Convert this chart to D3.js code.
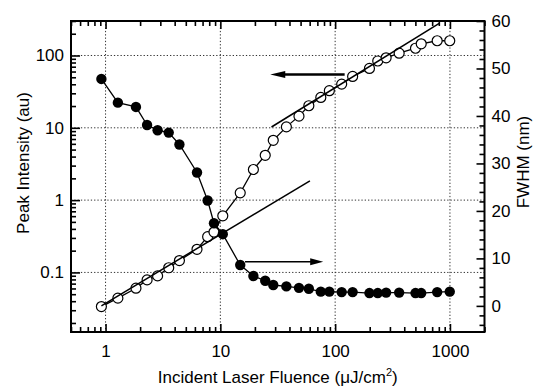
<!DOCTYPE html>
<html>
<head>
<meta charset="utf-8">
<script src="https://cdn.jsdelivr.net/npm/d3@7"></script>
<style>
    body { margin: 0; background: #fff; }
    svg text { font-family: 'Liberation Sans', Arial, sans-serif; fill: #000; }
</style>
</head>
<body>
<div class="chart"></div>
<script>

// fluence (uJ/cm2), shared by both series
var fluence = [0.92, 1.28, 1.84, 2.3, 2.84, 3.55, 4.4, 6.26, 7.75, 8.8, 10.5, 14.9, 19.4, 24.6, 28.9,
    37.6, 48.4, 59, 75, 89, 114, 142, 199, 235, 278, 361, 501, 562, 774, 996];

// open circles, left axis
var intensity = [0.0337, 0.0441, 0.0605, 0.0788, 0.0895, 0.116, 0.146, 0.209, 0.312, 0.362, 0.607, 1.26, 2.65, 4.17, 6.72,
    10.3, 14.5, 20.2, 26.3, 32.6, 40.2, 51.3, 66.2, 84, 92.9, 107.6, 126, 145, 160, 160];

// filled circles, right axis
var fwhm = [47.8, 42.8, 41.9, 38.1, 37.0, 36.5, 34.0, 28.1, 22.2, 17.4, 15.1, 8.6, 6.3, 5.3, 4.4,
    4.1, 3.8, 3.6, 3.0, 3.0, 2.9, 2.9, 2.7, 2.7, 2.8, 2.8, 2.7, 2.7, 2.9, 3.0];

// straight fit lines (fluence, intensity)
var fitLow = [[0.92, 0.0345], [60.3, 1.85]];
var fitHigh = [[27.9, 10.26], [813, 280]];

// arrows: left one points to the intensity axis, right one to FWHM
var arrowLeft = {from: [121, 54.7], to: [27.2, 54.7]};
var arrowRight = {from: [16.4, 9.3], to: [78.7, 9.3]};

var xMajor = [1, 10, 100, 1000];
var yMajor = [0.1, 1, 10, 100];
var rMajor = [0, 10, 20, 30, 40, 50, 60];

var W = 541, H = 387;
var pLeft = 71, pRight = 484.5, pTop = 21, pBottom = 332;

var svg = d3.select('.chart').append('svg')
    .attr('width', W)
    .attr('height', H);

var x = d3.scaleLog().domain([0.5, 2000]).range([pLeft, pRight]);
var yL = d3.scaleLog().domain([0.015, 300]).range([pBottom, pTop]);
var yR = d3.scaleLinear().domain([-5.5, 60]).range([pBottom, pTop]);

// dotted grid
svg.append('g').selectAll('line')
    .data(xMajor)
    .enter()
    .append('line')
    .attr('x1', function(d) {return x(d)})
    .attr('x2', function(d) {return x(d)})
    .attr('y1', pTop)
    .attr('y2', pBottom)
    .style('stroke', '#333')
    .style('stroke-width', '1')
    .style('stroke-dasharray', '1.3,2');

svg.append('g').selectAll('line')
    .data(yMajor)
    .enter()
    .append('line')
    .attr('y1', function(d) {return yL(d)})
    .attr('y2', function(d) {return yL(d)})
    .attr('x1', pLeft)
    .attr('x2', pRight)
    .style('stroke', '#333')
    .style('stroke-width', '1')
    .style('stroke-dasharray', '1.3,2');

// axes, ticks pointing inward
var xMinor = x.ticks().filter(function(d) {return xMajor.indexOf(d) < 0});
var yMinor = yL.ticks().filter(function(d) {return yMajor.indexOf(d) < 0});
var rMinor = d3.range(-4, 61, 2).filter(function(d) {return d % 10 != 0});

function addAxis(axis, tx, ty) {
    var g = svg.append('g')
        .attr('transform', 'translate(' + tx + ',' + ty + ')')
        .call(axis);
    g.select('.domain').remove();
    g.selectAll('line').style('stroke', '#000').style('stroke-width', '1.6');
    g.selectAll('text').style('font-size', '17px').style('font-family', null);
    return g;
}

addAxis(d3.axisBottom(x).tickValues(xMajor).tickSize(-8).tickPadding(13).tickFormat(d3.format('d')), 0, pBottom);
addAxis(d3.axisBottom(x).tickValues(xMinor).tickSize(-5).tickFormat(''), 0, pBottom);
addAxis(d3.axisTop(x).tickValues(xMajor).tickSize(-8).tickFormat(''), 0, pTop);
addAxis(d3.axisTop(x).tickValues(xMinor).tickSize(-5).tickFormat(''), 0, pTop);

addAxis(d3.axisLeft(yL).tickValues(yMajor).tickSize(-9).tickPadding(7).tickFormat(function(d) {return d < 1 ? '0.1' : d3.format('d')(d)}), pLeft, 0);
addAxis(d3.axisLeft(yL).tickValues(yMinor).tickSize(-5).tickFormat(''), pLeft, 0);

addAxis(d3.axisRight(yR).tickValues(rMajor).tickSize(-8).tickPadding(7), pRight, 0);
addAxis(d3.axisRight(yR).tickValues(rMinor).tickSize(-5).tickFormat(''), pRight, 0);

// frame
svg.append('rect')
    .attr('x', pLeft)
    .attr('y', pTop)
    .attr('width', pRight - pLeft)
    .attr('height', pBottom - pTop)
    .style('fill', 'none')
    .style('stroke', '#000')
    .style('stroke-width', '2');

// axis titles
svg.append('text')
    .attr('transform', 'translate(29,163) rotate(-90)')
    .attr('text-anchor', 'middle')
    .style('font-size', '17px')
    .text('Peak Intensity (au)');

svg.append('text')
    .attr('transform', 'translate(529,162) rotate(-90)')
    .attr('text-anchor', 'middle')
    .style('font-size', '17px')
    .text('FWHM (nm)');

var xt = svg.append('text')
    .attr('x', (pLeft + pRight) / 2)
    .attr('y', 383)
    .attr('text-anchor', 'middle')
    .style('font-size', '17px');
xt.append('tspan').text('Incident Laser Fluence (\u03BCJ/cm');
xt.append('tspan').attr('dy', '-7').style('font-size', '11px').text('2');
xt.append('tspan').attr('dy', '7').text(')');

// open circles: intensity
var openData = fluence.map(function(f, i) {return [f, intensity[i]]});
var filledData = fluence.map(function(f, i) {return [f, fwhm[i]]});

svg.append('path')
    .datum(openData)
    .attr('d', d3.line().x(function(d) {return x(d[0])}).y(function(d) {return yL(d[1])}))
    .style('fill', 'none')
    .style('stroke', '#000')
    .style('stroke-width', '1.3');

svg.append('g').selectAll('circle')
    .data(openData)
    .enter()
    .append('circle')
    .attr('cx', function(d) {return x(d[0])})
    .attr('cy', function(d) {return yL(d[1])})
    .attr('r', 5)
    .style('fill', '#fff')
    .style('stroke', '#000')
    .style('stroke-width', '1.2');

// fit lines
svg.selectAll('path.fit')
    .data([fitLow, fitHigh])
    .enter()
    .append('path')
    .attr('class', 'fit')
    .attr('d', d3.line().x(function(d) {return x(d[0])}).y(function(d) {return yL(d[1])}))
    .style('fill', 'none')
    .style('stroke', '#000')
    .style('stroke-width', '1.5');

// filled circles: fwhm
svg.append('path')
    .datum(filledData)
    .attr('d', d3.line().x(function(d) {return x(d[0])}).y(function(d) {return yR(d[1])}))
    .style('fill', 'none')
    .style('stroke', '#000')
    .style('stroke-width', '1.3');

svg.append('g').selectAll('circle')
    .data(filledData)
    .enter()
    .append('circle')
    .attr('cx', function(d) {return x(d[0])})
    .attr('cy', function(d) {return yR(d[1])})
    .attr('r', 5.2)
    .style('fill', '#000');

// arrows
function arrow(a, y, width, headLen, headW) {
    var x1 = x(a.from[0]), x2 = x(a.to[0]), yy = y(a.from[1]);
    var dir = x2 > x1 ? 1 : -1;
    svg.append('line')
        .attr('x1', x1)
        .attr('x2', x2 - dir * headLen * 0.8)
        .attr('y1', yy)
        .attr('y2', yy)
        .style('stroke', '#000')
        .style('stroke-width', width);
    svg.append('path')
        .attr('d', 'M' + x2 + ',' + yy + 'L' + (x2 - dir * headLen) + ',' + (yy - headW / 2) +
            'L' + (x2 - dir * headLen) + ',' + (yy + headW / 2) + 'Z')
        .style('fill', '#000');
}

arrow(arrowLeft, yL, 2.6, 15, 7);
arrow(arrowRight, yR, 1.4, 13, 7);

</script>
</body>
</html>
